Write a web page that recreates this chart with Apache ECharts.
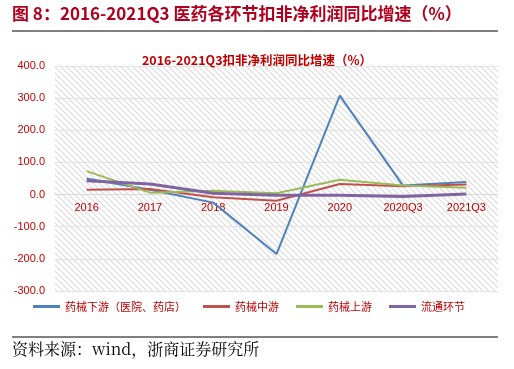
<!DOCTYPE html>
<html>
<head>
<meta charset="utf-8">
<script src="https://cdn.jsdelivr.net/npm/echarts@6/dist/echarts.min.js"></script>
<style>
html,body{margin:0;padding:0;background:#fff;}
#c{width:514px;height:369px;}
</style>
</head>
<body>
<div id="c"></div>
<script>
var categories = ['2016','2017','2018','2019','2020','2020Q3','2021Q3'];
var downstream = [50, 15, -25, -185, 308, 28, 39];
var midstream = [15, 17, -8, -19, 33, 26, 31];
var upstream = [73, 6, 12, 4, 46, 28, 21];
var circulation = [43, 33, 4, -2, -2, -6, 2];
var seriesNames = ['药械下游（医院、药店）','药械中游','药械上游','流通环节'];
var yTicks = {min: -300, max: 400, interval: 100};

var pc = document.createElement('canvas');
pc.width = 6; pc.height = 6;
var g = pc.getContext('2d');
g.fillStyle = '#ffffff'; g.fillRect(0,0,6,6);
g.strokeStyle = '#dcdcdc'; g.lineWidth = 1.2;
g.beginPath();
g.moveTo(-1,-1); g.lineTo(7,7);
g.moveTo(-4,2); g.lineTo(4,10);
g.moveTo(2,-4); g.lineTo(10,4);
g.stroke();

var gridTop = 66, gridBottom = 78, H = 369;
var plotH = H - gridTop - gridBottom;
var zeroOffset = -plotH * (0 - yTicks.min) / (yTicks.max - yTicks.min);

var chart = echarts.init(document.getElementById('c'), null, {renderer:'canvas'});
var colors = ['#4F81BD','#C0504D','#9BBB59','#8064A2'];
var dataArr = [downstream, midstream, upstream, circulation];
var series = dataArr.map(function(d,i){
  return {
    name: seriesNames[i], type:'line', data:d, symbol:'none',
    lineStyle:{color:colors[i], width: i===3 ? 3 : 2},
    itemStyle:{color:colors[i]}
  };
});
chart.setOption({
  animation:false,
  color: colors,
  title:{
    text:'2016-2021Q3扣非净利润同比增速（%）',
    left: 252, top: 49, textAlign:'center',
    textStyle:{color:'#C00000', fontSize:12.5, fontWeight:'bold', fontFamily:'Noto Sans CJK SC'}
  },
  grid:{left:55, right:16, top:gridTop, bottom:gridBottom, show:true, borderWidth:0,
    backgroundColor:{image:pc, repeat:'repeat'}},
  legend:{
    top: 296, left: 28, itemWidth:27, itemHeight:3, itemGap:17,
    icon:'rect',
    textStyle:{color:'#C00000', fontSize:11, fontFamily:'Noto Sans CJK SC'},
    data: seriesNames
  },
  xAxis:{
    type:'category', data:categories, boundaryGap:true,
    position:'bottom', offset: zeroOffset,
    axisLine:{onZero:false, lineStyle:{color:'#d9d9d9', width:1}},
    axisTick:{show:false},
    axisLabel:{color:'#C00000', fontSize:11, margin:8, fontFamily:'Liberation Sans'},
    splitLine:{show:false}
  },
  yAxis:{
    type:'value', min:yTicks.min, max:yTicks.max, interval:yTicks.interval,
    axisLine:{show:false}, axisTick:{show:false},
    axisLabel:{color:'#C00000', fontSize:11, margin:10, fontFamily:'Liberation Sans',
      formatter:function(v){return v.toFixed(1);}},
    splitLine:{lineStyle:{color:'#e3e3e3', width:1}}
  },
  series: series,
  graphic:[
    {type:'text', left:12, top:5, style:{text:'图 8：2016-2021Q3 医药各环节扣非净利润同比增速（%）',
      fill:'#B0001E', font:'bold 17px "Noto Sans CJK SC"'}},
    {type:'line', shape:{x1:12,y1:31,x2:498,y2:31}, style:{stroke:'#000', lineWidth:1}},
    {type:'line', shape:{x1:12,y1:337,x2:498,y2:337}, style:{stroke:'#000', lineWidth:1}},
    {type:'text', left:12, top:341, style:{text:'资料来源：wind，浙商证券研究所',
      fill:'#000', font:'16px "Noto Serif CJK SC", "Noto Sans CJK SC", serif'}}
  ]
});
</script>
</body>
</html>
